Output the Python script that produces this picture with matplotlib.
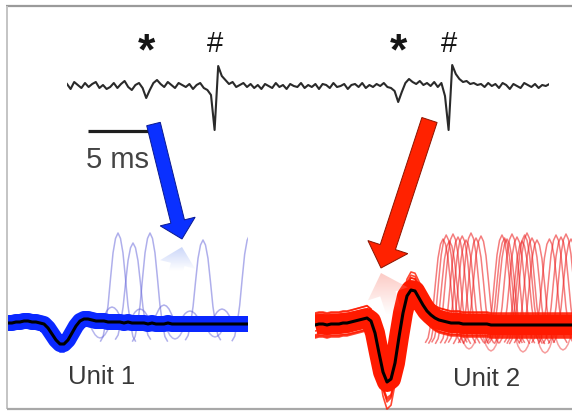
import numpy as np
import matplotlib
matplotlib.use("Agg")
import matplotlib.pyplot as plt
from matplotlib.patches import FancyArrow, Polygon

W, H = 572, 411
FONT = ["Liberation Sans", "DejaVu Sans"]

# ---------------- raw extracellular recording ----------------
trace_dt_ms = 0.3
trace_uv = [
    2, -3, 4, 1, -2, 3, -1, 2, 4, -2,
    1, -3, -1, 3, -2, 2, 5, -1, -4, 1,
    3, -2, -12, -4, 3, 6, 2, -1, 4, 1,
    -2, 3, 1, -1, 2, -3, 1, 3, -2, -4,
    -9, -44, 20, 10, 6, 2, 4, -1, 1, 3,
    -1, 2, -2, 1, -3, 2, 0, -2, 3, -1,
    1, -3, 2, 0, -1, 3, -2, 1, -1, 2,
    -3, 2, 1, -2, 3, -1, 0, 2, -3, 1,
    2, -1, 3, -2, 1, -1, 2, 0, 3, -1,
    -2, -5, -16, -6, 3, 7, 4, 2, 5, 1,
    3, 0, 4, -1, 3, -10, -44, 21, 12, 7,
    4, 5, 2, 3, 1, 2, -1, 3, 0, 2,
    -2, 3, 1, -3, 2, 0, -2, 3, 1, -1, 2, -2, 1, 0, 2,
]
event_times_ms = [6.6, 12.3, 27.6, 31.8]
event_labels = ["*", "#", "*", "#"]
scale_bar_ms = 5

# ---------------- sorted unit waveforms ----------------
unit1_mean = [
    0, 0, 1, 1, 2, 2, 1, 1, 0, -1,
    -5, -11, -17, -21, -21, -17, -10, -3, 2, 4,
    4, 3, 2, 2, 2, 1, 1, 1, 1, 0,
    1, 0, 0, 0, 0, -1, 0, -1, -1, -1,
    0, -1, -1, -1, -1, -1, -1, -1, -1, -1,
    -1, -1, -1, -1, -1, -1, -1, -1, -1, -1, -1,
]
unit2_mean = [
    0, 1, 1, 0, 1, 1, 1, 2, 2, 3,
    4, 5, 6, 7, 4, -8, -28, -47, -57, -54,
    -38, -12, 12, 29, 35, 34, 27, 20, 14, 10,
    7, 5, 4, 3, 2, 2, 2, 1, 1, 1,
    1, 1, 1, 1, 0, 0, 0, 0, 0, 0,
    0, 0, 0, 0, 0, 0, 0, 0, 0, 0,
    0, 0, 0, 0, 0, 0, 0,
]
# individual sweeps: (amplitude gain, vertical offset)
unit1_sweeps = [(0.9, 6), (1.1, -6), (1.0, 7), (0.95, -7), (1.15, 4), (0.85, -4), (1.05, 2)]
unit2_sweeps = [(0.8, 10), (1.3, -10), (1.2, 11), (0.9, -11), (1.35, 0), (1.1, -12),
                (1.25, 6), (0.85, -6), (1.0, 12), (1.05, -13)]

# overlapping spikes from other cells inside the window
overlap_shape = [-0.2, -0.15, 0.0, 0.2, 0.5, 0.78, 0.94, 1.0, 0.94, 0.78, 0.5, 0.2, 0.0, -0.15, -0.2]
overlap_step = 0.62  # samples between points of overlap_shape
unit1_overlap_at = [27.5, 31.25, 35.5, 48.75, 60.4, 26.0, 33.0, 39.0, 45.5, 53.5, 23.0, 41.75, 51.75]
unit1_overlap_h = [90, 80, 90, 83, 88, 16, 14, 18, 12, 14, -15, -16, -14]
unit2_overlap_at = [32.0, 32.8, 33.6, 34.5, 35.75, 37.75, 39.0, 40.25, 41.5, 46.75,
                    48.0, 49.25, 50.5, 51.75, 53.0, 54.25, 55.5, 60.25, 61.5, 62.75,
                    64.0, 36.8, 47.4, 52.4, 58.6, 44.0, 57.5, 38.5, 52.0, 62.0]
unit2_overlap_h = [86, 90, 84, 91, 88, 85, 92, 87, 89, 90,
                   86, 91, 88, 84, 92, 87, 85, 90, 88, 91,
                   86, 89, 87, 90, 86, -26, -28, -24, -27, -25]

unit_labels = ["Unit 1", "Unit 2"]
unit_colors = ["#0a28ff", "#ff1a00"]
unit_faint = [(0.38, 0.38, 0.85), (0.93, 0.15, 0.15)]


fig = plt.figure(figsize=(W / 100, H / 100), dpi=100, facecolor="white")


def px_axes(x0, y0, x1, y1, **kw):
    ax = fig.add_axes([x0 / W, 1 - y1 / H, (x1 - x0) / W, (y1 - y0) / H], **kw)
    ax.axis("off")
    ax.patch.set_alpha(0)
    return ax


# page frame
bg = px_axes(0, 0, W, H)
bg.set_xlim(0, W)
bg.set_ylim(H, 0)
bg.plot([6, W + 5], [6.5, 6.5], color="#9a9a9a", lw=1.6, solid_capstyle="butt")
bg.plot([7, 7], [6, 409], color="#c4c4c4", lw=1.4, solid_capstyle="butt")
bg.plot([7, W + 5], [409, 409], color="#a8a8a8", lw=1.6, solid_capstyle="butt")

# raw trace
t = np.arange(len(trace_uv)) * trace_dt_ms
ax_tr = px_axes(67, 46, 67 + 12 * t[-1], 146)
ax_tr.set_xlim(0, t[-1])
ax_tr.set_ylim(-60, 40)
ax_tr.plot(t, trace_uv, color="#2a2a2a", lw=1.5, solid_joinstyle="round")
for te, lab in zip(event_times_ms, event_labels):
    if lab == "*":
        ax_tr.text(te, 22, lab, ha="center", va="baseline", fontsize=32,
                   fontweight="bold", family=FONT, color="#151515", clip_on=False)
    else:
        ax_tr.text(te, 34, lab, ha="center", va="baseline", fontsize=21,
                   family=FONT, color="#151515", clip_on=False)
sb0 = 1.75
ax_tr.plot([sb0, sb0 + scale_bar_ms], [-45, -45], color="#1e1e1e", lw=2.3,
           solid_capstyle="butt", clip_on=False)
ax_tr.text(sb0 + scale_bar_ms / 2, -74, f"{scale_bar_ms} ms", ha="center", va="center",
           fontsize=21, family=FONT, color="#444444", clip_on=False)

# unit waveform panels
shape_off = (np.arange(len(overlap_shape)) - (len(overlap_shape) - 1) / 2) * overlap_step
shape = np.array(overlap_shape)
panels = [
    (px_axes(8, 213, 248, 373), unit1_mean, unit1_sweeps, unit1_overlap_at, unit1_overlap_h,
     (0, 60), (-50, 110), 16, 0.5),
    (px_axes(315, 215, 579, 415), unit2_mean, unit2_sweeps, unit2_overlap_at, unit2_overlap_h,
     (0, 66), (-90, 110), 20, 0.6),
]
for k, (ax, mean, sweeps, at, hh, xl, yl, band_px, fa) in enumerate(panels):
    ax.set_xlim(*xl)
    ax.set_ylim(*yl)
    idx = np.arange(len(mean))
    m = np.array(mean, dtype=float)
    for c, h in zip(at, hh):
        ax.plot(c + shape_off, h * shape, color=unit_faint[k], lw=1.1,
                alpha=fa if h > 0 else 0.45)
    ax.plot(idx, m, color=unit_colors[k], lw=band_px * 0.72, solid_capstyle="butt",
            solid_joinstyle="round")
    for g, o in sweeps:
        ax.plot(idx, m * g + o, color=unit_colors[k], lw=1.2, alpha=0.8)
    ax.plot(idx, m, color="black", lw=2.2, solid_joinstyle="round")

# labels below the units
ov = px_axes(0, 0, W, H)
ov.set_xlim(0, W)
ov.set_ylim(H, 0)
ov.text(102, 377, unit_labels[0], ha="center", va="center", fontsize=18.5,
        family=FONT, color="#383838")
ov.text(487, 379, unit_labels[1], ha="center", va="center", fontsize=18.5,
        family=FONT, color="#383838")

# arrows pointing from the raw trace to each unit, with a faded reflection under the tip
arrows = [
    dict(start=(153.5, 124), tip=(182, 239), width=14, hw=36, hl=18,
         fc="#0a30ff", ec="#0a1a90", ghost=(0.55, 0.65, 0.95), gap=8, fade=24, a0=0.45),
    dict(start=(429.5, 120), tip=(381, 268), width=16, hw=42, hl=22,
         fc="#ff2200", ec="#8a1400", ghost=(0.98, 0.55, 0.5), gap=5, fade=42, a0=0.45),
]
for a in arrows:
    (x0, y0), (x1, y1) = a["start"], a["tip"]
    arr = FancyArrow(x0, y0, x1 - x0, y1 - y0, width=a["width"], head_width=a["hw"],
                     head_length=a["hl"], length_includes_head=True,
                     fc=a["fc"], ec=a["ec"], lw=0.7, zorder=5)
    ov.add_patch(arr)
    xy = arr.get_xy().copy()
    ymir = y1 + a["gap"] / 2
    xy[:, 1] = 2 * ymir - xy[:, 1]
    ghost = Polygon(xy, closed=True, fc="none", ec="none")
    ov.add_patch(ghost)
    ytop = y1 + a["gap"]
    grad = np.zeros((64, 2, 4))
    grad[..., :3] = a["ghost"]
    grad[..., 3] = np.linspace(a["a0"], 0, 64)[:, None]
    im = ov.imshow(grad, extent=(x1 - 40, x1 + 40, ytop + a["fade"], ytop),
                   origin="upper", aspect="auto", interpolation="bilinear", zorder=4)
    im.set_clip_path(ghost)
ov.set_xlim(0, W)
ov.set_ylim(H, 0)

fig.savefig("out.png", dpi=100, facecolor="white")
